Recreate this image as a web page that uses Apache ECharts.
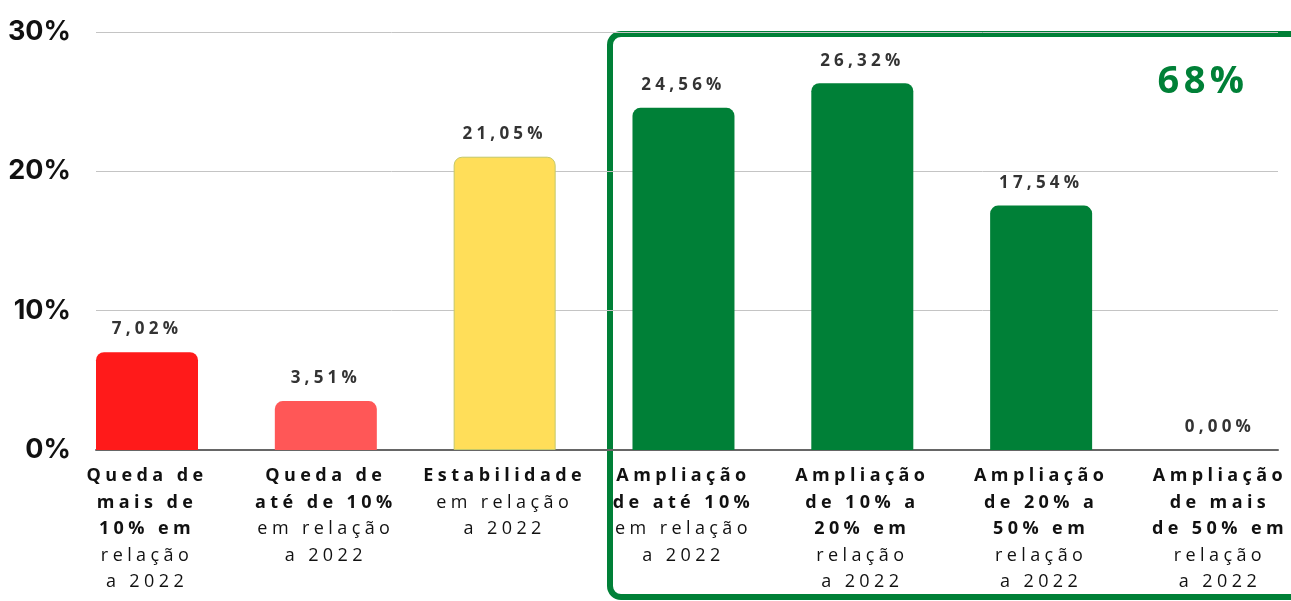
<!DOCTYPE html>
<html>
<head>
<meta charset="utf-8">
<title>Ampliação em relação a 2022</title>
<script src="https://cdn.jsdelivr.net/npm/echarts@6/dist/echarts.min.js"></script>
<style>
	html, body { margin: 0; padding: 0; background: #fff; }
	#main-chart { width: 1291px; height: 601px; }
</style>
</head>
<body>
<div id="main-chart"></div>
<script>
// 类别（粗体部分 / 常规部分）
var categoryBold = [
	['Queda de', 'mais de', '10% em'],
	['Queda de', 'até de 10%'],
	['Estabilidade'],
	['Ampliação', 'de até 10%'],
	['Ampliação', 'de 10% a', '20% em'],
	['Ampliação', 'de 20% a', '50% em'],
	['Ampliação', 'de mais', 'de 50% em']
];
var categoryRest = [
	['relação', 'a 2022'],
	['em relação', 'a 2022'],
	['em relação', 'a 2022'],
	['em relação', 'a 2022'],
	['relação', 'a 2022'],
	['relação', 'a 2022'],
	['relação', 'a 2022']
];
var values = [7.02, 3.51, 21.05, 24.56, 26.32, 17.54, 0.00];
var yTicks = [0, 10, 20, 30];
var totalLabel = '68%';

var barColors = ['#ff1a1a', '#ff5757', '#ffde59', '#008037', '#008037', '#008037', '#008037'];
var green = '#008037';

// canvas letterSpacing for the spaced texts (Open Sans only)
var fontProp = Object.getOwnPropertyDescriptor(CanvasRenderingContext2D.prototype, 'font');
Object.defineProperty(CanvasRenderingContext2D.prototype, 'font', {
	configurable: true,
	get: function(){ return fontProp.get.call(this); },
	set: function(v){
		fontProp.set.call(this, v);
		if('letterSpacing' in this){
			var m = /(\d+(\.\d+)?)px/.exec(v);
			var size = m ? parseFloat(m[1]) : 12;
			this.letterSpacing = v.indexOf('Open Sans') >= 0 ? Math.min(size * 0.245, 4.5).toFixed(1) + 'px' : '0px';
		}
	}
});

function createChart(){
	var categories = [];
	for(var i = 0; i < categoryBold.length; i++){
		categories.push(categoryBold[i].join(' ') + ' ' + categoryRest[i].join(' '));
	}

	var seriesData = [];
	for(var j = 0; j < values.length; j++){
		var item = { value: values[j], itemStyle: { color: barColors[j] } };
		if(j == 2){
			item.itemStyle.borderColor = '#c3c86a';
			item.itemStyle.borderWidth = 1;
		}
		seriesData.push(item);
	}

	var myChart = echarts.init(document.getElementById('main-chart'));

	var option = {
		animation: false,
		grid: [
			{ left: 96, right: 13, top: 32, bottom: 151 },
			// 柱子中心落在刻度点上
			{ left: 147, width: 1080, top: 32, bottom: 151 }
		],
		xAxis: [{
			gridIndex: 0,
			type: 'value',
			min: 0,
			max: 1,
			axisLine: { show: true, lineStyle: { color: '#666', width: 2 } },
			axisTick: { show: false },
			axisLabel: { show: false },
			splitLine: { show: false }
		}, {
			gridIndex: 1,
			type: 'category',
			boundaryGap: false,
			data: categories,
			axisLine: { show: false },
			axisTick: { show: false },
			axisLabel: {
				interval: 0,
				margin: 13,
				formatter: function(value, index){
					var lines = [];
					for(var k in categoryBold[index]){
						lines.push('{b|' + categoryBold[index][k] + '}');
					}
					for(var k2 in categoryRest[index]){
						lines.push('{r|' + categoryRest[index][k2] + '}');
					}
					return lines.join('\n');
				},
				rich: {
					b: {
						fontFamily: "'Open Sans', sans-serif",
						fontWeight: 700,
						fontSize: 18,
						lineHeight: 26.5,
						color: '#111'
					},
					r: {
						fontFamily: "'Open Sans', sans-serif",
						fontWeight: 500,
						fontSize: 18,
						lineHeight: 26.5,
						color: '#111'
					}
				}
			}
		}],
		yAxis: [{
			gridIndex: 0,
			type: 'value',
			min: yTicks[0],
			max: yTicks[yTicks.length - 1],
			interval: yTicks[1] - yTicks[0],
			axisLine: { show: false },
			axisTick: { show: false },
			axisLabel: {
				margin: 25,
				formatter: '{value}%',
				fontFamily: 'Inter, sans-serif',
				fontWeight: 'bold',
				fontSize: 27,
				color: '#111'
			},
			splitLine: { lineStyle: { color: '#c4c4c4', width: 1 } }
		}, {
			gridIndex: 1,
			type: 'value',
			min: yTicks[0],
			max: yTicks[yTicks.length - 1],
			show: false
		}],
		graphic: [{
			type: 'rect',
			z: -1,
			shape: { x: 610, y: 34, width: 720, height: 563, r: 11 },
			style: { fill: 'none', stroke: green, lineWidth: 6 }
		}, {
			type: 'text',
			x: 1203,
			y: 82,
			style: {
				text: totalLabel,
				fill: green,
				font: "bold 38px 'Open Sans', sans-serif",
				textAlign: 'center',
				textVerticalAlign: 'middle'
			}
		}],
		series: [{
			type: 'bar',
			xAxisIndex: 1,
			yAxisIndex: 1,
			barWidth: 102,
			data: seriesData,
			itemStyle: { borderRadius: [8, 8, 0, 0] },
			label: {
				show: true,
				position: 'top',
				distance: 12,
				fontFamily: "'Open Sans', sans-serif",
				fontWeight: 'bold',
				fontSize: 17,
				color: '#333',
				formatter: function(p){
					return p.value.toFixed(2).replace('.', ',') + '%';
				}
			}
		}]
	};

	myChart.setOption(option);
}

createChart();
</script>
</body>
</html>
